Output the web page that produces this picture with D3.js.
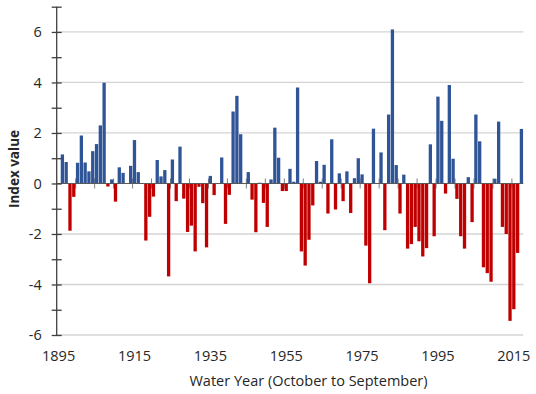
<!DOCTYPE html>
<html>
<head>
<meta charset="utf-8">
<script src="https://cdn.jsdelivr.net/npm/d3@7/dist/d3.min.js"></script>
<style>
  html, body { margin: 0; padding: 0; background: #ffffff; }
  svg { display: block; }
  text { font-family: "Open Sans", "Liberation Sans", sans-serif; fill: #262626; }
</style>
</head>
<body>
<svg id="chart" width="536" height="394"></svg>
<script>
// Categories: water years 1895..2017 (1895 has no value)
const years = d3.range(1895, 2018);
// Index values for water years 1896..2017
const valueYears = d3.range(1896, 2018);
const values = [
  1.15, 0.85, -1.87, -0.53, 0.82, 1.90, 0.83, 0.48, 1.28, 1.56,
  2.30, 3.99, -0.12, 0.16, -0.72, 0.64, 0.42, 0.00, 0.70, 1.72,
  0.45, 0.00, -2.26, -1.32, -0.52, 0.93, 0.28, 0.53, -3.68, 0.95,
  -0.70, 1.46, -0.60, -1.92, -1.67, -2.69, -0.13, -0.78, -2.53, 0.30,
  -0.46, 0.00, 1.03, -1.60, -0.45, 2.85, 3.47, 1.95, 0.00, 0.45,
  -0.64, -1.93, 0.03, -0.77, -1.72, 0.16, 2.21, 1.02, -0.30, -0.30,
  0.58, 0.07, 3.80, -2.69, -3.25, -2.23, -0.87, 0.89, 0.07, 0.74,
  -1.19, 1.75, -1.03, 0.40, -0.70, 0.48, -1.17, 0.21, 1.00, 0.36,
  -2.46, -3.95, 2.17, 0.00, 1.23, -1.85, 2.73, 6.10, 0.73, -1.19,
  0.35, -2.58, -2.40, -1.72, -2.29, -2.89, -2.56, 1.55, -2.09, 3.44,
  2.48, -0.40, 3.90, 0.98, -0.61, -2.09, -2.58, 0.25, -1.53, 2.73,
  1.67, -3.32, -3.55, -3.89, 0.19, 2.45, -1.72, -2.00, -5.44, -4.98,
  -2.75, 2.16
];
const xTickLabels = [1895, 1915, 1935, 1955, 1975, 1995, 2015];
const yTicks = [-6, -5, -4, -3, -2, -1, 0, 1, 2, 3, 4, 5, 6, 7];
const yLabelTicks = [-6, -4, -2, 0, 2, 4, 6];
const yGridTicks = [-6, -4, -2, 2, 4, 6];
const xTitle = "Water Year (October to September)";
const yTitle = "Index value";

(function () {
const data = valueYears.map((yr, i) => ({ year: yr, value: values[i] }));

const svg = d3.select("#chart");
const pLeft = 56.7, pRight = 523.3, pTop = 6.7, pBottom = 335;

const x = d3.scaleBand().domain(years).range([pLeft, pRight])
  .paddingInner(0.13).paddingOuter(0.065);
const y = d3.scaleLinear().domain([-6, 7]).range([pBottom, pTop]);

// Gridlines
svg.append("g").selectAll("line").data(yGridTicks).join("line")
  .attr("x1", pLeft).attr("x2", pRight)
  .attr("y1", d => y(d)).attr("y2", d => y(d))
  .attr("stroke", "#d4d4d4").attr("stroke-width", 1.3);

// X tick marks at category boundaries every 5 categories (behind bars)
const gap = (x.step() - x.bandwidth()) / 2;
const tickYears = years.filter((yr, j) => j > 0 && j % 5 === 0);
svg.append("g").selectAll("line").data(tickYears).join("line")
  .attr("x1", d => x(d) - gap).attr("x2", d => x(d) - gap)
  .attr("y1", y(0) - 5).attr("y2", y(0) + 5)
  .attr("stroke", "#7f7f7f").attr("stroke-width", 1);

// Bars
svg.append("g").selectAll("rect").data(data.filter(d => d.value !== 0)).join("rect")
  .attr("x", d => x(d.year))
  .attr("width", x.bandwidth())
  .attr("y", d => Math.min(y(d.value), y(0)))
  .attr("height", d => Math.abs(y(d.value) - y(0)))
  .attr("fill", d => d.value >= 0 ? "#2f5597" : "#c00000");

// Zero axis line
svg.append("line")
  .attr("x1", pLeft).attr("x2", pRight)
  .attr("y1", y(0)).attr("y2", y(0))
  .attr("stroke", "#595959").attr("stroke-width", 1.2);

// Y axis
const yAxis = d3.axisLeft(y).tickValues(yTicks)
  .tickSize(5).tickPadding(10)
  .tickFormat(d => yLabelTicks.includes(d) ? String(d) : "");
const gy = svg.append("g").attr("transform", `translate(${pLeft},0)`).call(yAxis);
gy.select(".domain").attr("stroke", "#404040").attr("stroke-width", 1.3)
  .attr("d", `M0,${pBottom}V${pTop}`);
gy.selectAll(".tick line").attr("x1", 5).attr("x2", -5)
  .attr("stroke", "#404040").attr("stroke-width", 1.3);
gy.selectAll(".tick text").style("font-size", "14.5px").attr("fill", "#262626");

// X axis labels
const xAxis = d3.axisBottom(x).tickValues(xTickLabels).tickSize(0).tickPadding(16);
const gx = svg.append("g").attr("transform", `translate(0,${pBottom})`).call(xAxis);
gx.select(".domain").remove();
gx.selectAll(".tick text").style("font-size", "14.5px").attr("fill", "#262626");

// Axis titles
svg.append("text")
  .attr("x", (pLeft + pRight) / 2 + 18.5).attr("y", 386)
  .attr("text-anchor", "middle")
  .style("font-size", "14.5px")
  .text(xTitle);

svg.append("text")
  .attr("transform", "translate(19,169) rotate(-90)")
  .attr("text-anchor", "middle")
  .style("font-size", "13.5px").style("font-weight", "bold")
  .text(yTitle);
})();
</script>
</body>
</html>
